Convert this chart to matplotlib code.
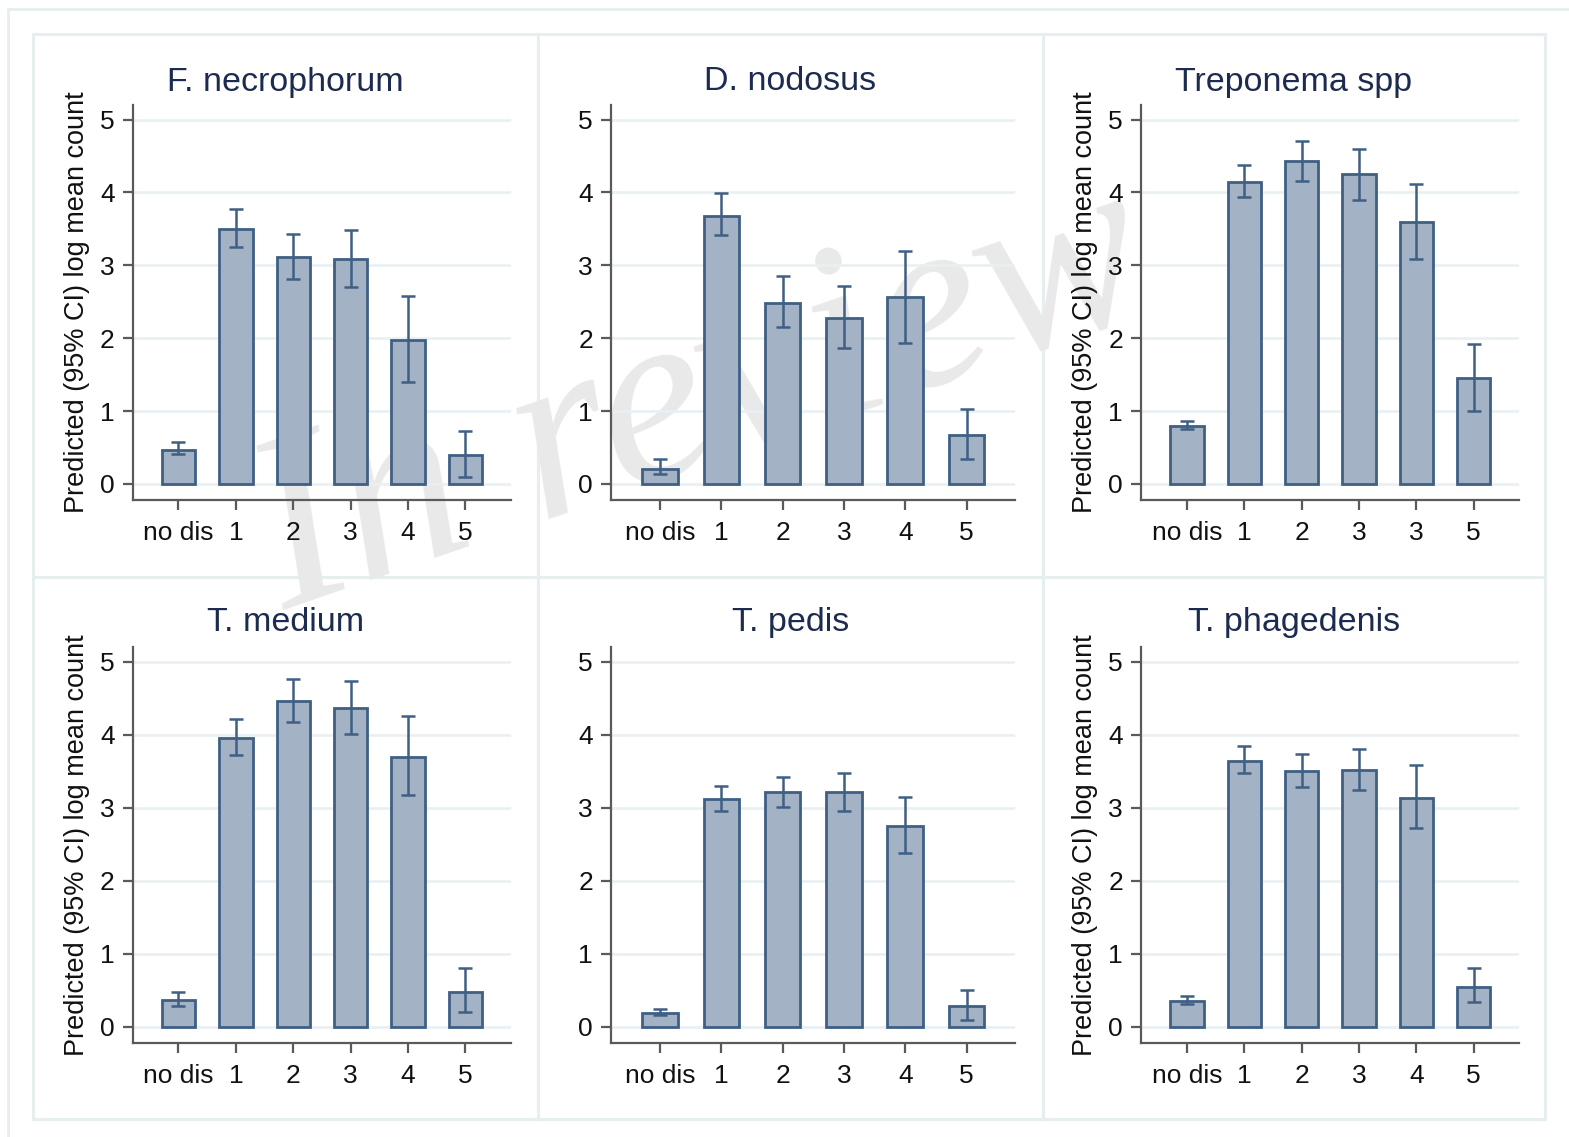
import matplotlib
matplotlib.use("Agg")
import matplotlib.pyplot as plt
from matplotlib.patches import Rectangle
import numpy as np

# ---------------- data ----------------
titles = ["F. necrophorum", "D. nodosus", "Treponema spp",
          "T. medium", "T. pedis", "T. phagedenis"]

labels_std = ["no dis", "1", "2", "3", "4", "5"]
labels_trep = ["no dis", "1", "2", "3", "3", "5"]

fn_mean = [0.47, 3.50, 3.12, 3.09, 1.98, 0.40]
fn_lo   = [0.41, 3.25, 2.81, 2.70, 1.40, 0.09]
fn_hi   = [0.57, 3.77, 3.43, 3.49, 2.58, 0.73]

dn_mean = [0.21, 3.68, 2.49, 2.28, 2.56, 0.67]
dn_lo   = [0.13, 3.41, 2.16, 1.87, 1.93, 0.34]
dn_hi   = [0.34, 3.99, 2.85, 2.72, 3.20, 1.03]

tr_mean = [0.80, 4.14, 4.43, 4.25, 3.60, 1.45]
tr_lo   = [0.75, 3.94, 4.16, 3.90, 3.09, 1.00]
tr_hi   = [0.87, 4.37, 4.71, 4.59, 4.12, 1.92]

tm_mean = [0.37, 3.95, 4.46, 4.37, 3.70, 0.48]
tm_lo   = [0.29, 3.72, 4.18, 4.01, 3.18, 0.20]
tm_hi   = [0.48, 4.21, 4.76, 4.74, 4.25, 0.80]

tp_mean = [0.19, 3.12, 3.21, 3.21, 2.75, 0.28]
tp_lo   = [0.16, 2.96, 3.01, 2.96, 2.38, 0.10]
tp_hi   = [0.25, 3.30, 3.42, 3.47, 3.15, 0.51]

tg_mean = [0.36, 3.64, 3.50, 3.51, 3.14, 0.54]
tg_lo   = [0.32, 3.47, 3.29, 3.24, 2.72, 0.34]
tg_hi   = [0.43, 3.84, 3.74, 3.81, 3.59, 0.81]

yticks = [0, 1, 2, 3, 4, 5]
ylabel = "Predicted (95% CI) log mean count"
watermark = "In review"

panels = [
    (titles[0], labels_std, fn_mean, fn_lo, fn_hi, True),
    (titles[1], labels_std, dn_mean, dn_lo, dn_hi, False),
    (titles[2], labels_trep, tr_mean, tr_lo, tr_hi, True),
    (titles[3], labels_std, tm_mean, tm_lo, tm_hi, True),
    (titles[4], labels_std, tp_mean, tp_lo, tp_hi, False),
    (titles[5], labels_std, tg_mean, tg_lo, tg_hi, True),
]

# ---------------- style ----------------
W, H = 1569, 1137
FILL = "#a3b3c5"
EDGE = "#3f5f84"
AXC = "#5a5a5a"
GRID = "#e8f0f1"
FRAME = "#e6eef0"
TITLEC = "#1c2b4f"
FONT = "Liberation Sans"

fig = plt.figure(figsize=(W / 100, H / 100), dpi=100)
fig.patch.set_facecolor("white")


def px_rect(x0, y0, x1, y1):
    """pixel box (top-left origin) -> figure fraction rect"""
    return [x0 / W, 1 - y1 / H, (x1 - x0) / W, (y1 - y0) / H]


# outer frame
fig.add_artist(Rectangle((8 / W, -0.05), 1.2, 1 - 9 / H + 0.05, transform=fig.transFigure,
                         facecolor="white", edgecolor=FRAME, lw=2.0, zorder=-5))

col_box = [(33, 538), (538, 1043), (1043, 1545)]
row_box = [(34, 577), (577, 1119)]
col_ax = [(132.6, 510.7), (611, 1015), (1141, 1519)]
row_ax = [(105, 500), (647, 1043)]
title_y = [82, 622]

# panel boxes
for r in range(2):
    for c in range(3):
        x0, x1 = col_box[c]
        y0, y1 = row_box[r]
        fx, fy, fw, fh = px_rect(x0, y0, x1, y1)
        fig.add_artist(Rectangle((fx, fy), fw, fh, transform=fig.transFigure,
                                 facecolor="white", edgecolor=FRAME, lw=2.2, zorder=-4))

# watermark
fig.text(703 / W, 1 - 402 / H, watermark, fontsize=180, family="Liberation Serif",
         style="italic", color="#e9e9e9", rotation=19, rotation_mode="anchor",
         ha="center", va="center", zorder=-3)

for i, (title, xlabels, mean, lo, hi, show_ylabel) in enumerate(panels):
    r, c = divmod(i, 3)
    ax = fig.add_axes(px_rect(col_ax[c][0], row_ax[r][0], col_ax[c][1], row_ax[r][1]))
    ax.set_facecolor("none")
    x = np.arange(len(mean))
    mean_a = np.array(mean)
    yerr = np.vstack([mean_a - np.array(lo), np.array(hi) - mean_a])
    ax.bar(x, mean, width=0.58, color=FILL, edgecolor=EDGE, linewidth=2.0, zorder=2)
    ax.errorbar(x, mean, yerr=yerr, fmt="none", ecolor=EDGE, elinewidth=1.8,
                capsize=5, capthick=1.8, zorder=3)
    ax.set_xlim(-0.8, 5.79)
    ax.set_ylim(-0.22, 5.2)
    ax.set_yticks(yticks)
    ax.set_yticklabels([str(t) for t in yticks])
    ax.set_xticks(x)
    ax.set_xticklabels(xlabels)
    ax.yaxis.grid(True, color=GRID, lw=1.8, zorder=0)
    ax.set_axisbelow(True)
    for s in ["top", "right"]:
        ax.spines[s].set_visible(False)
    for s in ["left", "bottom"]:
        ax.spines[s].set_color(AXC)
        ax.spines[s].set_linewidth(1.6)
    ax.tick_params(axis="both", colors=AXC, width=1.6, length=7, labelsize=19,
                   labelcolor="#111111", pad=6)
    ax.tick_params(axis="x", pad=8)
    for lab in ax.get_xticklabels() + ax.get_yticklabels():
        lab.set_family(FONT)
    if show_ylabel:
        ax.set_ylabel(ylabel, fontsize=19.5, family=FONT, color="#111111", labelpad=7)
    cx = (col_box[c][0] + col_box[c][1]) / 2
    fig.text(cx / W, 1 - title_y[r] / H, title, fontsize=24.5, family=FONT,
             color=TITLEC, ha="center", va="center")

fig.savefig("out.png", dpi=100, facecolor="white")
